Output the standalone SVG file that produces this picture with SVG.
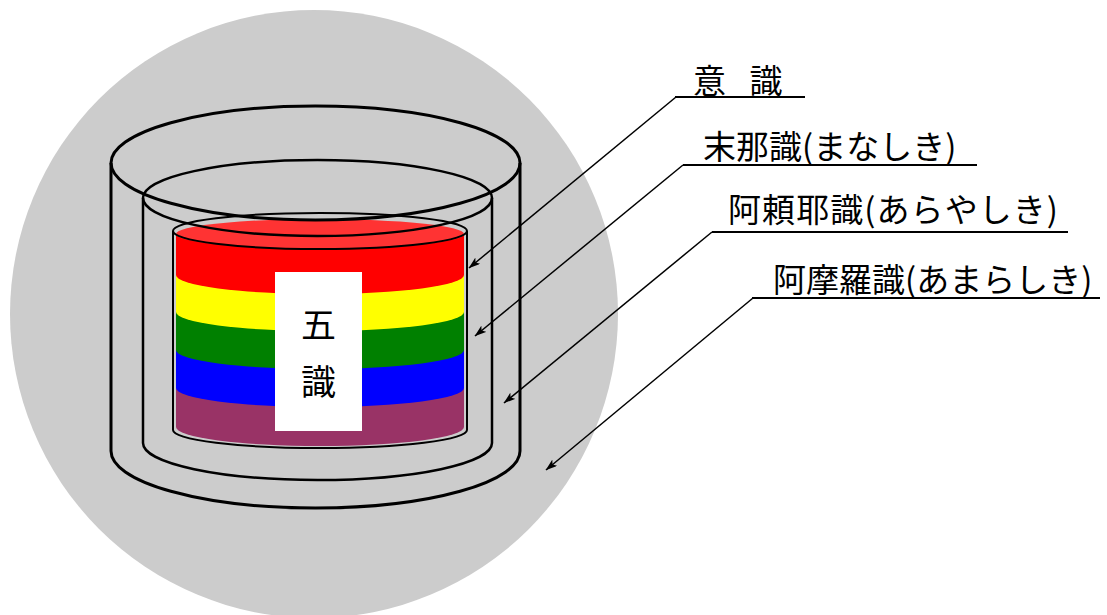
<svg xmlns="http://www.w3.org/2000/svg" width="1107" height="615" viewBox="0 0 1107 615">
  <style>
    .outline { fill: none; stroke: #000; }
    .leader { fill: none; stroke: #000; stroke-width: 1.5; }
    .rule { fill: none; stroke: #000; stroke-width: 2; }
    .label { font-family: "Noto Sans CJK JP", "Noto Sans", sans-serif; font-size: 33px; fill: #000; }
    .core { font-family: "Noto Sans CJK JP", "Noto Sans", sans-serif; font-size: 35px; fill: #000; text-anchor: middle; }
  </style>
  <defs>
    <marker id="arrow" viewBox="0 0 12 8" refX="11.5" refY="4" markerWidth="12" markerHeight="8" markerUnits="userSpaceOnUse" orient="auto">
      <path d="M0,0 L12,4 L0,8 L3,4 Z" fill="#000"/>
    </marker>
  </defs>

  <rect width="1107" height="615" fill="#fff"/>

  <!-- background sphere -->
  <circle id="sphere" cx="314" cy="314" r="304" fill="#cccccc"/>

  <!-- five senses: stacked colour bands, drawn bottom-up -->
  <g id="five-senses">
    <path d="M176,388 V427 A144,19 0 0 0 464,427 V388 Z" fill="#993366"/>
    <path d="M176,350 V388 A144,19 0 0 0 464,388 V350 Z" fill="#0000ff"/>
    <path d="M176,312 V350 A144,19 0 0 0 464,350 V312 Z" fill="#008000"/>
    <path d="M176,275 V312 A144,19 0 0 0 464,312 V275 Z" fill="#ffff00"/>
    <path d="M176,234 V275 A144,19 0 0 0 464,275 V234 Z" fill="#ff0000"/>
    <ellipse cx="320" cy="234" rx="144" ry="15" fill="#ff3333"/>
    <rect x="275" y="272" width="87" height="159" fill="#fff"/>
    <text class="core" x="318.5" y="338">五</text>
    <text class="core" x="318.5" y="395">識</text>
  </g>

  <!-- inner cylinder -->
  <g id="inner-cylinder" class="outline" stroke-width="2">
    <path d="M173,231 V430 A147,18 0 0 0 467,430 V231"/>
    <ellipse cx="320" cy="231" rx="147" ry="18"/>
  </g>

  <!-- middle cylinder -->
  <g id="middle-cylinder" class="outline" stroke-width="2.5">
    <path d="M143,198 V443 A174.5,37 0 0 0 492,443 V198"/>
    <ellipse cx="317.5" cy="198" rx="174.5" ry="38"/>
  </g>

  <!-- outer cylinder -->
  <g id="outer-cylinder" class="outline" stroke-width="3">
    <path d="M111,163 V451 A204.5,57 0 0 0 520,451 V163"/>
    <ellipse cx="315.5" cy="163" rx="204.5" ry="57"/>
  </g>

  <!-- leader lines -->
  <g id="connectors">
    <line class="leader" x1="676" y1="97" x2="469" y2="268" marker-end="url(#arrow)"/>
    <line class="leader" x1="683" y1="165" x2="475" y2="336" marker-end="url(#arrow)"/>
    <line class="leader" x1="712" y1="232" x2="504" y2="403" marker-end="url(#arrow)"/>
    <line class="leader" x1="753" y1="298" x2="546" y2="470" marker-end="url(#arrow)"/>
  </g>

  <!-- labels -->
  <g id="label-ishiki">
    <text class="label" x="693" y="93" word-spacing="16">意 識</text>
    <line class="rule" x1="675" y1="97" x2="805" y2="97"/>
  </g>
  <g id="label-manashiki">
    <text class="label" x="703" y="159">末那識(まなしき)</text>
    <line class="rule" x1="683" y1="165" x2="977" y2="165"/>
  </g>
  <g id="label-arayashiki">
    <text class="label" x="728" y="222" textLength="330">阿頼耶識(あらやしき)</text>
    <line class="rule" x1="712" y1="232" x2="1068" y2="232"/>
  </g>
  <g id="label-amarashiki">
    <text class="label" x="773" y="292">阿摩羅識(あまらしき)</text>
    <line class="rule" x1="752" y1="298" x2="1100" y2="298"/>
  </g>
</svg>
